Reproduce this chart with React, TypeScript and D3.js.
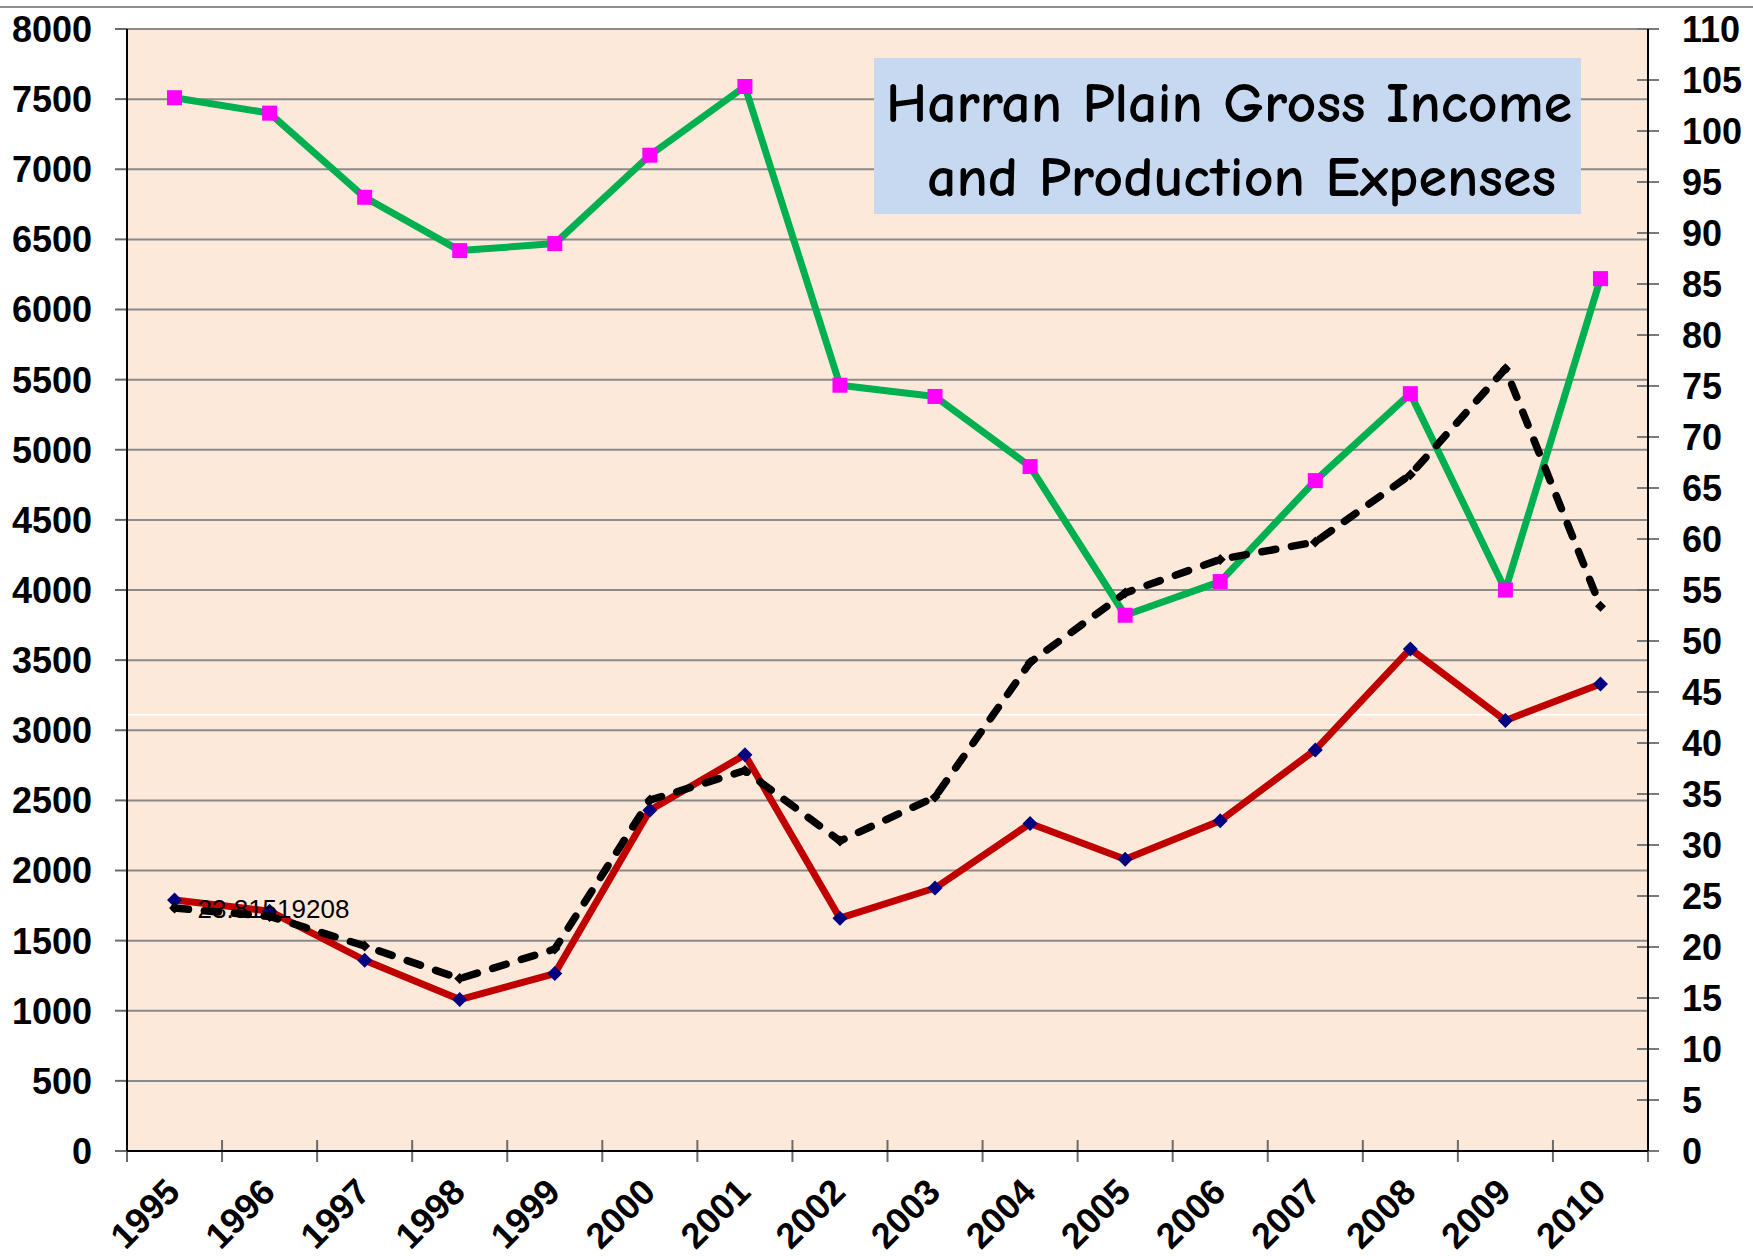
import React from "react";
import * as d3 from "d3";

const years = ["1995","1996","1997","1998","1999","2000","2001","2002","2003","2004","2005","2006","2007","2008","2009","2010"];
const grossIncome = [7510, 7400, 6800, 6420, 6470, 7100, 7590, 5460, 5380, 4880, 3820, 4060, 4780, 5400, 4000, 6220];
const productionExpenses = [1790, 1710, 1360, 1080, 1265, 2430, 2825, 1660, 1875, 2335, 2080, 2355, 2860, 3580, 3070, 3330];
const ratioSeries = [23.81519208, 23.0, 20.1, 16.9, 19.8, 34.4, 37.3, 30.4, 34.7, 47.9, 54.7, 58.0, 59.7, 66.3, 76.7, 53.4];
const leftTicks = d3.range(0, 8001, 500);
const rightTicks = d3.range(0, 111, 5);
const firstLabel = "23.81519208";
const titleLines = ["Harran Plain Gross Income", "and Production Expenses"];

const W = 1753, H = 1256;
const L = 127, R = 1648, T = 29, B = 1151;

export default function App() {
  const x = d3.scaleBand().domain(years).range([L, R]).padding(0);
  const yL = d3.scaleLinear().domain([0, 8000]).range([B, T]);
  const yR = d3.scaleLinear().domain([0, 110]).range([B, T]);
  const cx = (i: number) => (x(years[i]) as number) + x.bandwidth() / 2;

  const lineL = d3.line<number>().x((_, i) => cx(i)).y((d) => yL(d));
  const lineR = d3.line<number>().x((_, i) => cx(i)).y((d) => yR(d));

  const font = "'Liberation Sans', Arial, Helvetica, sans-serif";
  const titleFont = "'Comic Sans MS', 'Comic Neue', Lato, 'Open Sans', sans-serif";
  const edges = years.map((y) => x(y) as number).concat([R]);

  const diamond = (px: number, py: number, r: number) =>
    `M${px},${py - r}L${px + r},${py}L${px},${py + r}L${px - r},${py}Z`;

  return (
    <svg width={W} height={H} style={{ position: "absolute", left: 0, top: 0, background: "#fff" }}>
      <line x1={0} x2={W} y1={7} y2={7} stroke="#8f8f8f" strokeWidth={2} />
      <rect x={L} y={T} width={R - L} height={B - T} fill="#FDE9DA" />
      <line x1={L} x2={R} y1={yL(3110)} y2={yL(3110)} stroke="#ffffff" strokeWidth={1.5} />
      {leftTicks.map((t) => (
        <g key={"gl" + t}>
          {t > 0 && <line x1={L} x2={R} y1={yL(t)} y2={yL(t)} stroke="#8a8a8a" strokeWidth={2} />}
          <line x1={115} x2={L} y1={yL(t)} y2={yL(t)} stroke="#6a6a6a" strokeWidth={2} />
          <text x={92} y={yL(t)} dy="0.36em" textAnchor="end" fontFamily={font} fontWeight="bold" fontSize={36} fill="#000">
            {t}
          </text>
        </g>
      ))}
      {rightTicks.map((t) => (
        <g key={"r" + t}>
          <line x1={R - 11} x2={R + 11} y1={yR(t)} y2={yR(t)} stroke="#7a7a7a" strokeWidth={2} />
          <text x={1682} y={yR(t)} dy="0.36em" textAnchor="start" fontFamily={font} fontWeight="bold" fontSize={36} fill="#000">
            {t}
          </text>
        </g>
      ))}
      {edges.map((e, i) => (
        <line key={"xt" + i} x1={e} x2={e} y1={B - 11} y2={B + 11} stroke="#6a6a6a" strokeWidth={2} />
      ))}
      <line x1={L} x2={L} y1={T} y2={B} stroke="#000" strokeWidth={2} />
      <line x1={R} x2={R} y1={T} y2={B} stroke="#000" strokeWidth={2} />
      <line x1={L} x2={R} y1={B} y2={B} stroke="#000" strokeWidth={2} />
      {years.map((yr, i) => (
        <text
          key={"xl" + yr}
          transform={`translate(${cx(i) + 7.5},${1194}) rotate(-45)`}
          textAnchor="end"
          fontFamily={font}
          fontWeight="bold"
          fontSize={36}
          fill="#000"
        >
          {yr}
        </text>
      ))}

      <rect x={874} y={58} width={707} height={156} fill="#C6D9F1" />
      <text x={886} y={122} textLength={686} lengthAdjust="spacingAndGlyphs" fontFamily={titleFont} fontWeight="bold" fontSize={56} fill="#000">
        {titleLines[0]}
      </text>
      <text x={927} y={196} textLength={629} lengthAdjust="spacingAndGlyphs" fontFamily={titleFont} fontWeight="bold" fontSize={56} fill="#000">
        {titleLines[1]}
      </text>

      <path d={lineL(grossIncome) || ""} fill="none" stroke="#00B050" strokeWidth={7} strokeLinejoin="round" />
      {grossIncome.map((v, i) => (
        <rect key={"gs" + i} x={cx(i) - 7.5} y={yL(v) - 7.5} width={15} height={15} fill="#FF00FF" />
      ))}

      <path d={lineL(productionExpenses) || ""} fill="none" stroke="#C00000" strokeWidth={7} strokeLinejoin="round" />
      {productionExpenses.map((v, i) => (
        <path key={"rd" + i} d={diamond(cx(i), yL(v), 7.5)} fill="#000080" />
      ))}

      <path d={lineR(ratioSeries) || ""} fill="none" stroke="#000" strokeWidth={7.5} strokeDasharray="14,16" strokeLinecap="round" strokeLinejoin="round" />
      {ratioSeries.map((v, i) => (
        <path key={"bd" + i} d={diamond(cx(i), yR(v), 5.5)} fill="#000" />
      ))}

      <text x={cx(0) + 23} y={yR(ratioSeries[0]) + 10} fontFamily={font} fontSize={26} fill="#000">
        {firstLabel}
      </text>
    </svg>
  );
}
